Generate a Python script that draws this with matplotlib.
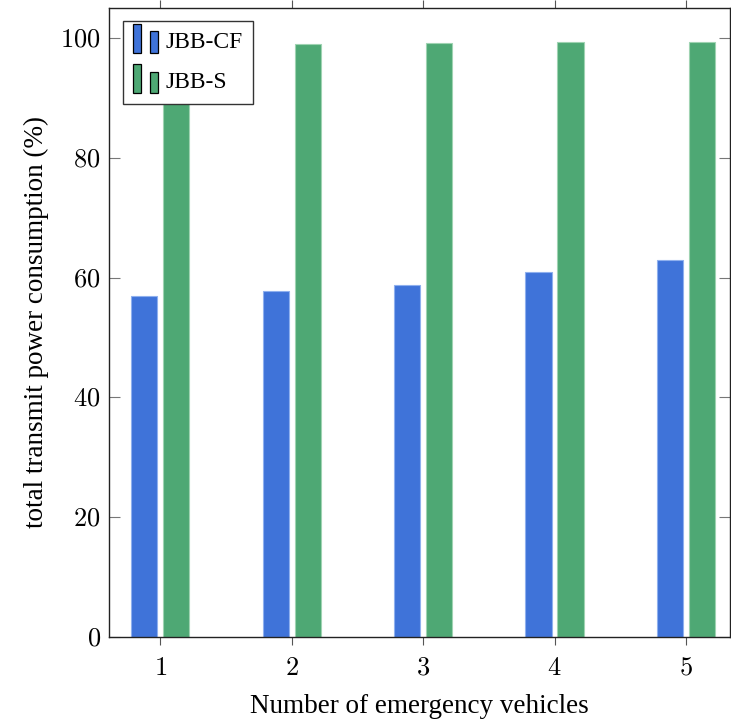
import matplotlib
matplotlib.use("Agg")
import matplotlib.pyplot as plt
import numpy as np
from matplotlib.legend_handler import HandlerBase
from matplotlib.patches import Rectangle

# Data
vehicles = [1, 2, 3, 4, 5]
jbb_cf = [56.9, 57.8, 58.8, 60.9, 62.9]
jbb_s = [98.6, 99.0, 99.2, 99.3, 99.4]
yticks = [0, 20, 40, 60, 80, 100]

BLUE = "#3F73D9"
GREEN = "#4EA874"
BAR_W = 0.2
OFFSET = 0.122


class TwoBarHandler(HandlerBase):
    """pgfplots-style ybar legend image: two small bars"""

    def create_artists(self, legend, orig_handle, xdescent, ydescent,
                       width, height, fontsize, trans):
        color = orig_handle.get_facecolor()
        bw = width * 0.33
        y0 = -ydescent - height * 0.3
        r1 = Rectangle((-xdescent, y0), bw, height * 1.75,
                       facecolor=color, edgecolor="black", lw=0.9, transform=trans)
        r2 = Rectangle((-xdescent + width * 0.67, y0), bw, height * 1.3,
                       facecolor=color, edgecolor="black", lw=0.9, transform=trans)
        return [r1, r2]


plt.rcParams["font.family"] = ["Liberation Serif", "DejaVu Serif"]
plt.rcParams["mathtext.fontset"] = "cm"

fig = plt.figure(figsize=(7.31, 7.23), dpi=100)
ax = fig.add_axes([109 / 731, 86 / 723, 621 / 731, 629 / 723])

x = np.array(vehicles)
b1 = ax.bar(x - OFFSET, jbb_cf, width=BAR_W, color=BLUE, edgecolor="#8fb0ee",
            linewidth=0.8, label="JBB-CF")
b2 = ax.bar(x + OFFSET, jbb_s, width=BAR_W, color=GREEN, edgecolor="#9fd3b2",
            linewidth=0.8, label="JBB-S")

ax.set_xlim(0.61, 5.335)
ax.set_ylim(0, 105)
ax.set_xticks(vehicles)
ax.set_xticklabels([f"${v}$" for v in vehicles], fontsize=19)
ax.set_yticks(yticks)
ax.set_yticklabels([f"${v}$" for v in yticks], fontsize=19)

ax.tick_params(axis="x", direction="out", length=6, width=0.8, color="#555555",
               top=True, pad=9)
ax.tick_params(axis="y", direction="in", length=8, width=0.8, color="#777777",
               right=True, pad=6)
for s in ax.spines.values():
    s.set_linewidth(1.0)
    s.set_color("#222222")

ax.set_xlabel("Number of emergency vehicles", fontsize=19.5, labelpad=10)
ax.set_ylabel("total transmit power consumption (%)", fontsize=19.5, labelpad=8)

leg = ax.legend(handles=[b1.patches[0], b2.patches[0]], labels=["JBB-CF", "JBB-S"],
                handler_map={Rectangle: TwoBarHandler()},
                loc="upper left", bbox_to_anchor=(0.022, 0.98), fontsize=17,
                fancybox=False, framealpha=1, edgecolor="#333333",
                handlelength=1.05, handletextpad=0.3, borderpad=0.45,
                labelspacing=0.8, borderaxespad=0)
leg.get_frame().set_linewidth(1.0)

fig.savefig("out.png", dpi=100)
